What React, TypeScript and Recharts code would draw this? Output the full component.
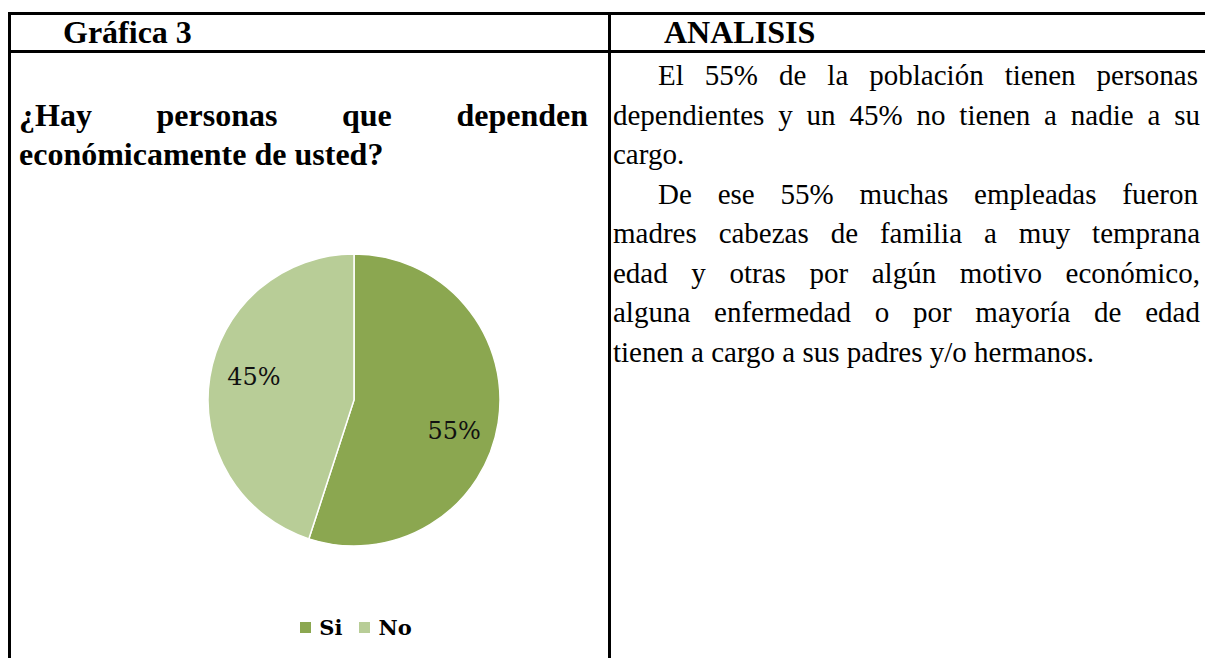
import React from 'react';
import { PieChart, Pie, Cell, Legend } from 'recharts';

const categories = ['Si', 'No'];
const values = [55, 45];
const colors = ['#8BA750', '#B8CD97'];

const titleLeft = 'Gráfica 3';
const titleRight = 'ANALISIS';
const questionLines = ['¿Hay personas que dependen', 'económicamente de usted?'];
const analysisLines = [
  'El 55% de la población tienen personas',
  'dependientes y un 45% no tienen a nadie a su',
  'cargo.',
  'De ese 55% muchas empleadas fueron',
  'madres cabezas de familia a muy temprana',
  'edad y otras por algún motivo económico,',
  'alguna enfermedad o por mayoría de edad',
  'tienen a cargo a sus padres y/o hermanos.',
];
const analysisIndent = [true, false, false, true, false, false, false, false];
const analysisJustify = [true, true, false, true, true, true, true, false];

const data = categories.map((name, i) => ({ name, value: values[i] }));

const RAD = Math.PI / 180;
const renderLabel = (props: any) => {
  const { cx, cy, midAngle, outerRadius, value } = props;
  const a = midAngle - 6;
  const r = outerRadius * 0.71;
  const x = cx + r * Math.cos(-a * RAD);
  const y = cy + r * Math.sin(-a * RAD) + 4;
  return (
    <text x={x} y={y} fill="#111" fontSize={24} fontFamily="DejaVu Serif" textAnchor="middle" dominantBaseline="central">
      {`${value}%`}
    </text>
  );
};

const LINE_TOP = 75;
const LINE_STEP = 39.5;

export default function App() {
  const line = (l: number, t: number, w: number, h: number) => (
    <div style={{ position: 'absolute', left: l, top: t, width: w, height: h, background: '#000' }} />
  );
  return (
    <div style={{ position: 'absolute', left: 0, top: 0, width: 1205, height: 658, background: '#fff', overflow: 'hidden', fontFamily: '"Liberation Serif", serif', color: '#000' }}>
      <style>{'.recharts-pie-sectors{filter:drop-shadow(1px 2px 2px rgba(0,0,0,0.22));}'}</style>
      <div style={{ position: 'absolute', left: 0, top: 52, width: 610, height: 606 }}>
        <PieChart width={610} height={606} margin={{ top: 0, right: 0, bottom: 0, left: 0 }}>
          <Pie
            data={data}
            dataKey="value"
            nameKey="name"
            cx={354}
            cy={348}
            outerRadius={146}
            startAngle={90}
            endAngle={-270}
            stroke="#fff"
            strokeWidth={1.5}
            label={renderLabel}
            labelLine={false}
            isAnimationActive={false}
          >
            {data.map((d, i) => (
              <Cell key={d.name} fill={colors[i]} />
            ))}
          </Pie>
          <Legend
            verticalAlign="bottom"
            wrapperStyle={{ left: 256, width: 200, bottom: 18 }}
            content={() => (
              <div style={{ display: 'flex', justifyContent: 'center', gap: 17 }}>
                {categories.map((c, i) => (
                  <span key={c} style={{ display: 'inline-flex', alignItems: 'center', fontWeight: 'bold', fontSize: 21, fontFamily: '"DejaVu Serif", serif' }}>
                    <span style={{ display: 'inline-block', width: 11, height: 11, background: colors[i], marginRight: 8 }} />
                    {c}
                  </span>
                ))}
              </div>
            )}
          />
        </PieChart>
      </div>

      {line(8, 12, 1197, 3)}
      {line(8, 50, 1197, 3)}
      {line(8, 12, 3, 646)}
      {line(608, 12, 3, 646)}

      <div style={{ position: 'absolute', left: 63, top: 14, lineHeight: '36px', fontSize: 32, fontWeight: 'bold' }}>{titleLeft}</div>
      <div style={{ position: 'absolute', left: 664, top: 14, lineHeight: '36px', fontSize: 32, fontWeight: 'bold' }}>{titleRight}</div>

      {questionLines.map((t, i) => (
        <div
          key={t}
          style={{
            position: 'absolute',
            left: 19,
            width: 569,
            top: LINE_TOP + (i + 1) * LINE_STEP - 20,
            lineHeight: '40px',
            fontSize: 32,
            fontWeight: 'bold',
            whiteSpace: 'nowrap',
            textAlign: i === 0 ? 'justify' : 'left',
            textAlignLast: i === 0 ? 'justify' : 'left',
          } as any}
        >
          {t}
        </div>
      ))}

      {analysisLines.map((t, i) => (
        <div
          key={t}
          style={{
            position: 'absolute',
            left: analysisIndent[i] ? 658 : 613,
            width: analysisIndent[i] ? 540 : 587,
            top: LINE_TOP + i * LINE_STEP - 20,
            lineHeight: '40px',
            fontSize: 29,
            whiteSpace: 'nowrap',
            textAlign: analysisJustify[i] ? 'justify' : 'left',
            textAlignLast: analysisJustify[i] ? 'justify' : 'left',
          } as any}
        >
          {t}
        </div>
      ))}
    </div>
  );
}
